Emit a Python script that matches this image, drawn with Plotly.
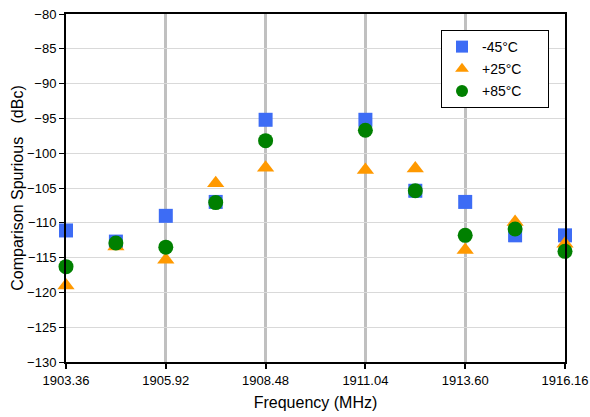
import plotly.graph_objects as go

freq = [1903.36, 1904.64, 1905.92, 1907.20, 1908.48, 1911.04, 1912.32, 1913.60, 1914.88, 1916.16]
m45 = [-111.1, -112.7, -109.0, -107.0, -95.2, -95.2, -105.4, -107.0, -111.8, -111.8]
p25 = [-119.0, -113.4, -115.3, -104.3, -102.1, -102.4, -102.2, -113.9, -109.9, -113.0]
p85 = [-116.3, -112.9, -113.5, -107.1, -98.2, -96.7, -105.4, -111.8, -110.9, -114.1]
series_names = ["-45°C", "+25°C", "+85°C"]
xticks = [1903.36, 1905.92, 1908.48, 1911.04, 1913.60, 1916.16]
xticklabels = ["1903.36", "1905.92", "1908.48", "1911.04", "1913.60", "1916.16"]
yticks = list(range(-130, -79, 5))

pad = "\u2003\u2002"
fig = go.Figure()
fig.add_trace(go.Scatter(x=freq, y=m45, mode="markers", name=series_names[0] + pad, cliponaxis=False,
                         legendgroup="a",
                         marker=dict(symbol="square", size=14, color="#3D6CF5")))
fig.add_trace(go.Scatter(x=freq, y=p25, mode="markers", name=series_names[1] + pad, cliponaxis=False,
                         legendgroup="b",
                         marker=dict(symbol="triangle-up", size=15, color="#FF9900")))
fig.add_trace(go.Scatter(x=freq, y=p85, mode="markers", name=series_names[2] + pad, cliponaxis=False,
                         legendgroup="c",
                         marker=dict(symbol="circle", size=15, color="#008000")))

fig.update_layout(
    width=590, height=417,
    margin=dict(l=66, r=25, t=14, b=55),
    paper_bgcolor="white", plot_bgcolor="white",
    font=dict(family="Liberation Sans, Arial, sans-serif", size=13, color="black"),
    showlegend=True,
    legend=dict(x=0.7515, y=0.954, xanchor="left", yanchor="top",
                bordercolor="black", borderwidth=1, bgcolor="white",
                font=dict(size=14), itemwidth=30, itemsizing="constant",
                traceorder="grouped", tracegroupgap=1),
    xaxis=dict(range=[1903.36, 1916.16], tickvals=xticks, ticktext=xticklabels,
               automargin=False, ticklabeloverflow="allow",
               showgrid=True, gridcolor="#C0C0C0", gridwidth=3,
               showline=True, linecolor="black", linewidth=2, mirror=True,
               ticks="outside", ticklen=5, tickcolor="black", tickwidth=2,
               zeroline=False,
               title=dict(text="Frequency (MHz)", font=dict(size=16), standoff=10)),
    yaxis=dict(range=[-130, -80], tickvals=yticks, automargin=False, ticklabeloverflow="allow",
               showgrid=True, gridcolor="#D9D9D9", gridwidth=1,
               showline=True, linecolor="black", linewidth=2, mirror=True,
               ticks="outside", ticklen=5, tickcolor="black", tickwidth=1,
               zeroline=False,
               title=dict(text="Comparison Spurious\u00a0\u00a0 (dBc)", font=dict(size=16), standoff=0)),
)

fig.write_html("out.html", config={"displayModeBar": False},
               post_script="document.body.style.margin='0';document.body.style.overflow='hidden';")
